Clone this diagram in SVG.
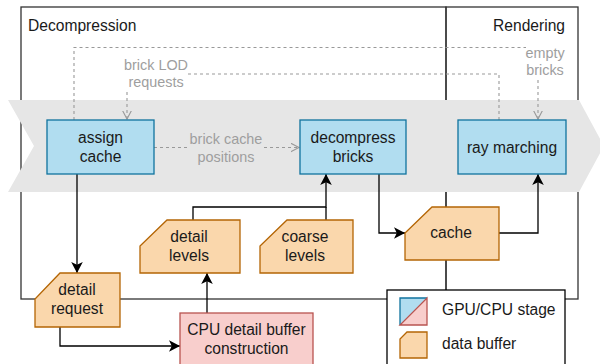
<svg xmlns="http://www.w3.org/2000/svg" width="600" height="364" viewBox="0 0 600 364">
<defs>
<style>
text{font-family:"Liberation Sans",Arial,sans-serif;fill:#1a1a1a;text-anchor:middle}
.t{font-size:15.6px}
.lbl{font-size:14.4px;fill:#9e9e9e}
.region{fill:none;stroke:#333;stroke-width:1.3}
.gpu{fill:#b1ddf0;stroke:#10739e;stroke-width:1.3}
.buf{fill:#fad7ac;stroke:#b46504;stroke-width:1.3}
.cpu{fill:#f8cecc;stroke:#b85450;stroke-width:1.3}
.c{fill:none;stroke:#000;stroke-width:1.3}
.d{fill:none;stroke:#999;stroke-width:1.1;stroke-dasharray:3 3}
</style>
<marker id="ah" markerUnits="userSpaceOnUse" markerWidth="12" markerHeight="12" refX="11" refY="5.8" orient="auto" viewBox="0 0 12 12">
<path d="M0,0 L11,5.8 L0,11.6 L2.8,5.8 Z" fill="#000" stroke="none"/>
</marker>
<marker id="oh" markerUnits="userSpaceOnUse" markerWidth="10" markerHeight="10" refX="8.5" refY="4.5" orient="auto" viewBox="0 0 10 10">
<path d="M0,0 L8.5,4.5 L0,9" fill="none" stroke="#999" stroke-width="1.1" stroke-dasharray="none"/>
</marker>
</defs>

<g id="regions">
<rect class="region" x="21" y="7" width="425" height="292"/>
<rect class="region" x="446" y="7" width="132" height="292"/>
<text class="t" x="28" y="30.5" style="text-anchor:start">Decompression</text>
<text class="t" x="565" y="30.5" style="text-anchor:end">Rendering</text>
</g>

<g id="band">
<polygon points="8,100 579,100 604,146 579,192 8,192 34,146" fill="#e6e6e6"/>
</g>

<g id="connectors">
<!-- empty bricks -->
<path class="d" d="M74,120 V47.5 H526"/>
<path class="d" d="M538,80 V119" marker-end="url(#oh)"/>
<text class="lbl" x="545" y="58">empty</text>
<text class="lbl" x="545" y="75">bricks</text>
<!-- brick LOD requests -->
<path class="d" d="M499,120 V74 H188"/>
<path class="d" d="M127,92 V119" marker-end="url(#oh)"/>
<text class="lbl" x="156" y="70">brick LOD</text>
<text class="lbl" x="156" y="87">requests</text>
<!-- brick cache positions -->
<path class="d" d="M154,147.5 H188"/>
<path class="d" d="M264,147.5 H299" marker-end="url(#oh)"/>
<text class="lbl" x="226" y="143.5">brick cache</text>
<text class="lbl" x="226" y="161.5">positions</text>

<path class="c" d="M77,174 V273" marker-end="url(#ah)"/>
<path class="c" d="M60,327 V346 H180" marker-end="url(#ah)"/>
<path class="c" d="M207,313 V273" marker-end="url(#ah)"/>
<path class="c" d="M193,220 V207 H326 V174" marker-end="url(#ah)"/>
<path class="c" d="M326,220 V207"/>
<path class="c" d="M379,174 V233 H405" marker-end="url(#ah)"/>
<path class="c" d="M499,233 H538 V174" marker-end="url(#ah)"/>
</g>

<g id="assign-cache">
<rect class="gpu" x="47" y="120" width="107" height="54"/>
<text class="t" x="100.5" y="143">assign</text>
<text class="t" x="100.5" y="162">cache</text>
</g>
<g id="decompress-bricks">
<rect class="gpu" x="300" y="120" width="106" height="54"/>
<text class="t" x="353" y="143">decompress</text>
<text class="t" x="353" y="162">bricks</text>
</g>
<g id="ray-marching">
<rect class="gpu" x="458" y="120" width="108" height="54"/>
<text class="t" x="512" y="152.5">ray marching</text>
</g>

<g id="detail-request">
<path class="buf" d="M60,273 H120 V327 H35 V299 Z"/>
<text class="t" x="77" y="294.5">detail</text>
<text class="t" x="77" y="313.5">request</text>
</g>
<g id="detail-levels">
<path class="buf" d="M167,220 H240 V273 H140 V246 Z"/>
<text class="t" x="189" y="242">detail</text>
<text class="t" x="189" y="261">levels</text>
</g>
<g id="coarse-levels">
<path class="buf" d="M287,220 H353 V273 H260 V246 Z"/>
<text class="t" x="305" y="242">coarse</text>
<text class="t" x="305" y="261">levels</text>
</g>
<g id="cache">
<path class="buf" d="M432,207 H499 V260 H405 V233 Z"/>
<text class="t" x="451" y="238">cache</text>
</g>
<g id="cpu-detail-buffer">
<rect class="cpu" x="180" y="313" width="133" height="70"/>
<text class="t" x="246.5" y="335">CPU detail buffer</text>
<text class="t" x="246.5" y="354">construction</text>
</g>

<g id="legend">
<rect x="387" y="290" width="178" height="90" fill="#fff" stroke="#000" stroke-width="1.3"/>
<path d="M400,298 H427 L400,325 Z" fill="#b1ddf0" stroke="none"/>
<path d="M427,298 V325 H400 Z" fill="#f8cecc" stroke="none"/>
<path d="M400,325 V298 H427" fill="none" stroke="#10739e" stroke-width="1.3"/>
<path d="M427,298 V325 H400 Z" fill="none" stroke="#b85450" stroke-width="1.3"/>
<text class="t" x="442" y="315" style="text-anchor:start">GPU/CPU stage</text>
<path class="buf" d="M407,332 H427 V358 H400 V339 Z"/>
<text class="t" x="442" y="349" style="text-anchor:start">data buffer</text>
</g>
</svg>
